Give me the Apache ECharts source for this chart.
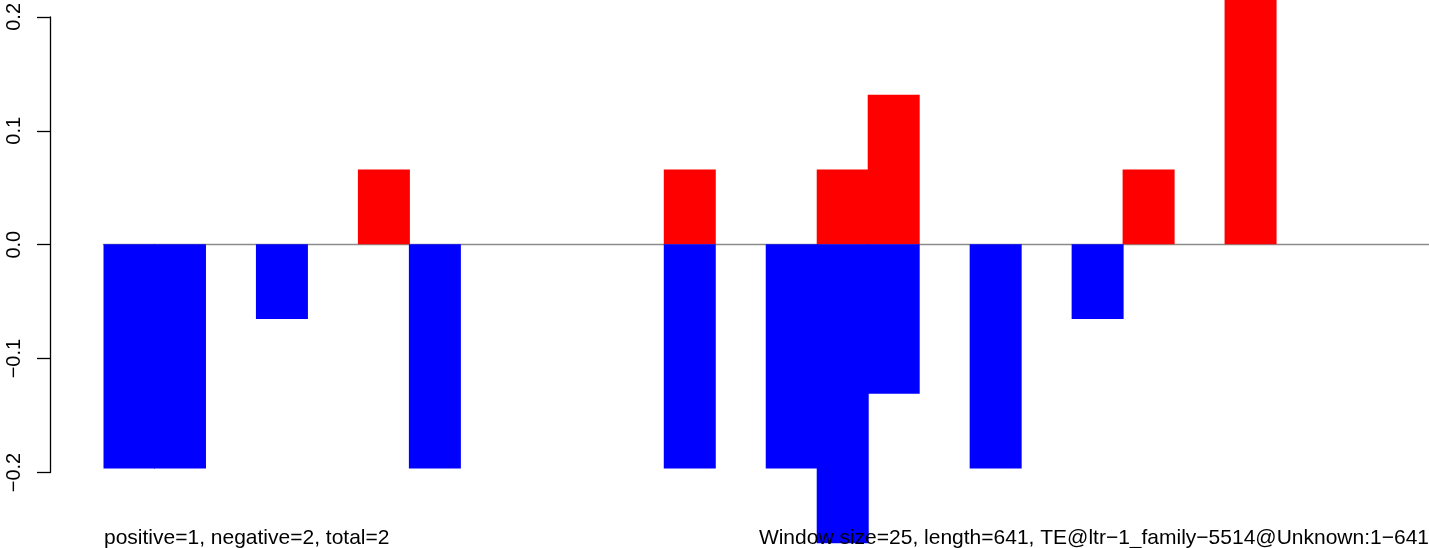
<!DOCTYPE html>
<html>
<head>
<meta charset="utf-8">
<script src="https://cdn.jsdelivr.net/npm/echarts@6/dist/echarts.min.js"></script>
<style>html,body{margin:0;padding:0;background:#fff}#c{width:1429px;height:548px}</style>
</head>
<body>
<div id="c"></div>
<script>
// 26 windows (window size 25, length 641)
const categories = Array.from({length: 26}, (_, i) => String(i + 1));
const positiveValues = [0, 0, 0, 0, 0, 0.0655, 0, 0, 0, 0, 0, 0.0655, 0, 0, 0.0655, 0.131, 0, 0, 0, 0, 0.0655, 0, 0.262, 0, 0, 0];
const negativeValues = [-0.1966, -0.1966, 0, -0.0655, 0, 0, -0.1966, 0, 0, 0, 0, -0.1966, 0, -0.1966, -0.262, -0.131, 0, -0.1966, 0, -0.0655, 0, 0, 0, 0, 0, 0];
const yTicks = [-0.2, -0.1, 0.0, 0.1, 0.2];
const leftNote = 'positive=1, negative=2, total=2';
const rightNote = 'Window size=25, length=641, TE@ltr\u22121_family\u22125514@Unknown:1\u2212641';

const FONT = '"Liberation Sans", Arial, Helvetica, sans-serif';
const fmt = v => (v < 0 ? '\u2212' : '') + Math.abs(v).toFixed(1);

const chart = echarts.init(document.getElementById('c'), null, {renderer: 'canvas'});
chart.setOption({
  animation: false,
  backgroundColor: '#ffffff',
  grid: [
    {left: 50, top: 16, width: 1, height: 456.5},
    {left: 103.5, top: 0, width: 1328.6, height: 548}
  ],
  xAxis: [
    {gridIndex: 0, type: 'value', show: false},
    {gridIndex: 1, type: 'category', data: categories, boundaryGap: true,
     axisLine: {show: true, onZero: true, lineStyle: {color: '#8c8c8c', width: 1.3}},
     axisTick: {show: false}, axisLabel: {show: false}, splitLine: {show: false}}
  ],
  yAxis: [
    {gridIndex: 0, type: 'value', min: yTicks[0], max: yTicks[yTicks.length - 1], interval: 0.1,
     axisLine: {show: true, lineStyle: {color: '#000', width: 1.3}},
     axisTick: {show: true, length: 13, lineStyle: {color: '#000', width: 1.3}},
     axisLabel: {show: true, rotate: 90, margin: 26, color: '#000', fontSize: 20, fontFamily: FONT, formatter: fmt},
     splitLine: {show: false}},
    {gridIndex: 1, type: 'value', min: -0.2662, max: 0.2141, show: false, splitLine: {show: false}}
  ],
  series: [
    {type: 'bar', xAxisIndex: 1, yAxisIndex: 1, data: positiveValues, barWidth: 52, barGap: '-100%',
     itemStyle: {color: '#ff0000'}, clip: true, silent: true},
    {type: 'bar', xAxisIndex: 1, yAxisIndex: 1, data: negativeValues, barWidth: 52, barGap: '-100%',
     itemStyle: {color: '#0000ff'}, clip: true, silent: true}
  ],
  graphic: [
    {type: 'text', x: 104, y: 528, z: 100,
     style: {text: leftNote, fill: '#000', font: '21px ' + FONT, verticalAlign: 'top', align: 'left'}},
    {type: 'text', x: 1429, y: 528, z: 100,
     style: {text: rightNote, fill: '#000', font: '21px ' + FONT, verticalAlign: 'top', align: 'right'}}
  ]
});
</script>
</body>
</html>
